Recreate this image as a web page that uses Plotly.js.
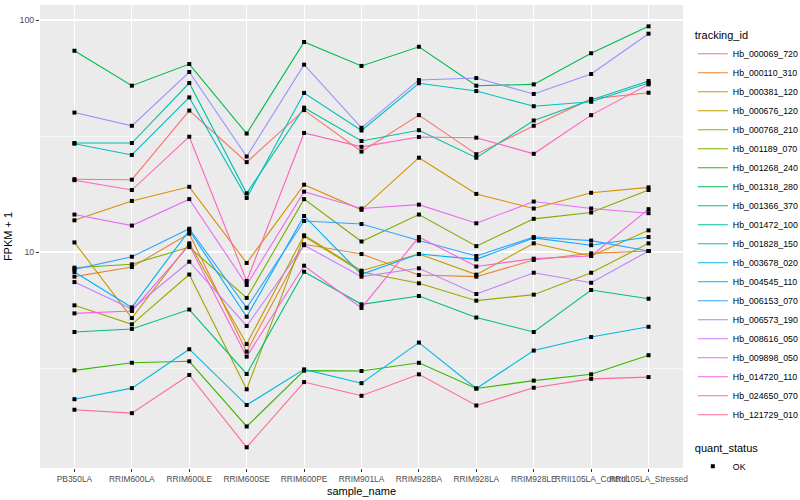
<!DOCTYPE html>
<html>
<head>
<meta charset="utf-8">
<script src="https://cdn.plot.ly/plotly-3.0.1.min.js"></script>
<style>html,body{margin:0;padding:0;background:#fff;}#chart{width:800px;height:500px;}</style>
</head>
<body>
<div id="chart"></div>
<script>
const samples = ["PB350LA","RRIM600LA","RRIM600LE","RRIM600SE","RRIM600PE","RRIM901LA","RRIM928BA","RRIM928LA","RRIM928LE","RRII105LA_Control","RRII105LA_Stressed"];

const trackingIds = ["Hb_000069_720","Hb_000110_310","Hb_000381_120","Hb_000676_120","Hb_000768_210","Hb_001189_070","Hb_001268_240","Hb_001318_280","Hb_001366_370","Hb_001472_100","Hb_001828_150","Hb_003678_020","Hb_004545_110","Hb_006153_070","Hb_006573_190","Hb_008616_050","Hb_009898_050","Hb_014720_110","Hb_024650_070","Hb_121729_010"];

const colors = ["#F8766D","#EA8331","#D89000","#C09B00","#A3A500","#7CAE00","#39B600","#00BB4E","#00BF7D","#00C1A3","#00BFC4","#00BAE0","#00B0F6","#35A2FF","#9590FF","#C77CFF","#E76BF3","#FA62DB","#FF62BC","#FF6A98"];

// FPKM + 1 per sample, one array per tracking id
const hb_000069_720 = [20.6, 20.5, 40.7, 24.4, 40.9, 27.1, 38.9, 26.4, 35.0, 45.7, 48.6];
const hb_000110_310 = [7.83, 8.61, 12.0, 3.72, 10.8, 9.80, 7.96, 7.83, 9.24, 9.87, 10.1];
const hb_000381_120 = [13.7, 16.6, 19.1, 8.97, 19.5, 15.2, 25.5, 17.8, 15.4, 18.0, 19.0];
const hb_000676_120 = [11.0, 5.19, 10.9, 4.01, 11.8, 8.31, 9.80, 7.99, 10.9, 9.61, 12.4];
const hb_000768_210 = [5.89, 4.88, 8.00, 2.56, 11.7, 8.20, 7.33, 6.17, 6.55, 8.14, 10.9];
const hb_001189_070 = [8.56, 8.85, 10.5, 6.34, 16.9, 11.1, 14.5, 10.6, 13.9, 14.8, 18.5];
const hb_001268_240 = [3.09, 3.33, 3.38, 1.77, 3.08, 3.07, 3.33, 2.58, 2.79, 2.97, 3.59];
const hb_001318_280 = [73.7, 52.1, 64.6, 32.4, 80.4, 63.4, 76.7, 52.1, 52.8, 71.9, 93.9];
const hb_001366_370 = [4.52, 4.66, 5.65, 2.98, 8.22, 5.95, 6.46, 5.22, 4.52, 6.86, 6.29];
const hb_001472_100 = [29.5, 29.5, 53.5, 17.9, 41.9, 30.1, 33.5, 25.5, 36.9, 45.2, 54.6];
const hb_001828_150 = [29.3, 26.2, 46.4, 17.1, 48.5, 33.4, 53.4, 49.4, 42.5, 44.4, 53.5];
const hb_003678_020 = [2.32, 2.59, 3.81, 2.19, 3.12, 2.72, 4.07, 2.58, 3.76, 4.30, 4.76];
const hb_004545_110 = [8.20, 5.77, 12.4, 5.26, 14.3, 8.01, 9.80, 9.30, 11.5, 10.7, 11.6];
const hb_006153_070 = [8.42, 9.54, 12.6, 5.75, 13.6, 13.2, 11.2, 9.61, 11.6, 11.2, 10.1];
const hb_006573_190 = [39.9, 35.0, 59.7, 25.8, 64.2, 34.3, 55.1, 56.2, 48.0, 58.5, 87.3];
const hb_008616_050 = [7.42, 5.68, 9.08, 4.80, 10.7, 7.83, 8.51, 6.59, 8.14, 7.37, 10.1];
const hb_009898_050 = [14.5, 13.0, 16.9, 7.21, 18.2, 15.4, 16.0, 13.3, 16.5, 15.4, 14.7];
const hb_014720_110 = [5.44, 5.57, 10.7, 3.54, 8.73, 5.74, 11.6, 8.66, 9.36, 9.61, 15.3];
const hb_024650_070 = [20.4, 18.5, 31.4, 7.50, 32.6, 28.4, 31.3, 31.1, 26.5, 38.9, 52.8];
const hb_121729_010 = [2.09, 2.02, 2.95, 1.44, 2.75, 2.40, 2.97, 2.18, 2.60, 2.84, 2.89];

const seriesValues = [hb_000069_720, hb_000110_310, hb_000381_120, hb_000676_120, hb_000768_210, hb_001189_070, hb_001268_240, hb_001318_280, hb_001366_370, hb_001472_100, hb_001828_150, hb_003678_020, hb_004545_110, hb_006153_070, hb_006573_190, hb_008616_050, hb_009898_050, hb_014720_110, hb_024650_070, hb_121729_010];

const yTickVals = [10, 100];
const yTickText = ["10", "100"];
const yMinorVals = [3.1623, 31.623];

const FONT = "Liberation Sans, Arial, Helvetica, sans-serif";

const traces = seriesValues.map((vals, i) => ({
  type: "scatter",
  mode: "lines",
  x: samples,
  y: vals,
  name: trackingIds[i],
  line: {color: colors[i], width: 1.1},
  legend: "legend",
  hoverinfo: "skip"
}));

const allX = [], allY = [];
seriesValues.forEach(vals => vals.forEach((v, j) => { allX.push(samples[j]); allY.push(v); }));
traces.push({
  type: "scatter",
  mode: "markers",
  x: allX,
  y: allY,
  name: "OK",
  marker: {symbol: "square", size: 4, color: "#000000"},
  legend: "legend2",
  hoverinfo: "skip"
});

const layout = {
  width: 800,
  height: 500,
  margin: {l: 40, r: 116.5, t: 5, b: 32},
  paper_bgcolor: "#FFFFFF",
  plot_bgcolor: "#EBEBEB",
  font: {family: FONT, color: "#000000"},
  showlegend: true,
  xaxis: {
    type: "category",
    categoryorder: "array",
    categoryarray: samples,
    tickmode: "array",
    tickvals: samples,
    ticktext: samples,
    range: [-0.6, samples.length - 0.4],
    showgrid: true,
    gridcolor: "#FFFFFF",
    gridwidth: 1.1,
    zeroline: false,
    showline: false,
    ticks: "outside",
    ticklen: 3,
    tickwidth: 1,
    tickcolor: "#333333",
    tickangle: 0,
    tickfont: {family: FONT, size: 8.4, color: "#4D4D4D"},
    title: {text: "sample_name", font: {family: FONT, size: 11, color: "#000000"}, standoff: 4},
    automargin: false,
    fixedrange: true
  },
  yaxis: {
    type: "log",
    range: [0.069, 2.0647],
    tickmode: "array",
    tickvals: yTickVals,
    ticktext: yTickText,
    showgrid: true,
    gridcolor: "#FFFFFF",
    gridwidth: 1.1,
    zeroline: false,
    showline: false,
    ticks: "outside",
    ticklen: 3,
    tickwidth: 1,
    tickcolor: "#333333",
    tickfont: {family: FONT, size: 8.8, color: "#4D4D4D"},
    minor: {tickmode: "array", tickvals: yMinorVals, showgrid: true, gridcolor: "#FFFFFF", gridwidth: 0.55, ticks: ""},
    title: {text: "FPKM + 1", font: {family: FONT, size: 11, color: "#000000"}, standoff: 4},
    automargin: false,
    fixedrange: true
  },
  legend: {
    title: {text: "tracking_id", font: {family: FONT, size: 11, color: "#000000"}},
    font: {family: FONT, size: 8.8, color: "#000000"},
    xref: "container", yref: "container",
    x: 0.866, y: 0.95, xanchor: "left", yanchor: "top",
    bgcolor: "rgba(0,0,0,0)",
    tracegroupgap: 0,
    itemwidth: 30,
    maxheight: 420
  },
  legend2: {
    title: {text: "quant_status", font: {family: FONT, size: 11, color: "#000000"}},
    font: {family: FONT, size: 8.8, color: "#000000"},
    xref: "container", yref: "container",
    x: 0.866, y: 0.125, xanchor: "left", yanchor: "top",
    bgcolor: "rgba(0,0,0,0)",
    itemwidth: 30,
    maxheight: 80
  }
};

Plotly.newPlot("chart", traces, layout, {staticPlot: true, displayModeBar: false});
</script>
</body>
</html>
